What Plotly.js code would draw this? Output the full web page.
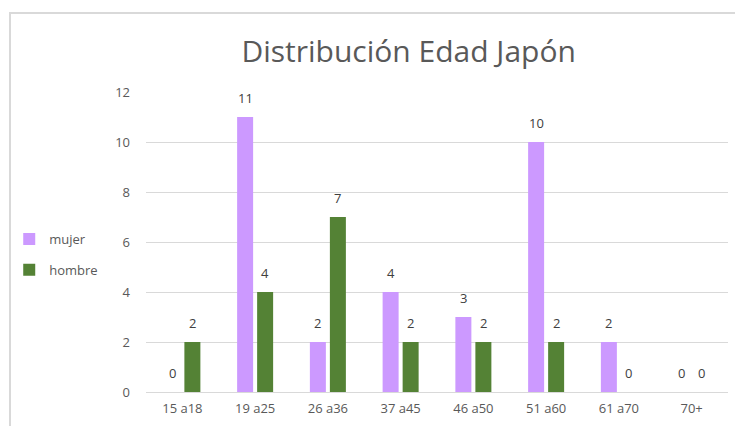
<!DOCTYPE html>
<html>
<head>
<meta charset="utf-8">
<script src="https://cdn.plot.ly/plotly-3.0.1.min.js"></script>
<style>
  html, body { margin: 0; padding: 0; background: #fff; overflow: hidden; }
  #frame { position: absolute; left: 9px; top: 12px; width: 800px; height: 500px;
           border-left: 2px solid #D9D9D9; border-top: 2px solid #D9D9D9; }
  #chart { position: absolute; left: 0; top: 0; width: 735px; height: 426px; }
</style>
</head>
<body>
<div id="frame"></div>
<div id="chart"></div>
<script>
const categories = ["15 a18", "19 a25", "26 a36", "37 a45", "46 a50", "51 a60", "61 a70", "70+"];
const mujer = [0, 11, 2, 4, 3, 10, 2, 0];
const hombre = [2, 4, 7, 2, 2, 2, 0, 0];
const seriesNames = ["mujer", "hombre"];
const seriesColors = ["#CC99FF", "#548235"];

const series = [mujer, hombre];
const traces = series.map((vals, i) => ({
  type: "bar",
  name: seriesNames[i],
  x: categories,
  y: vals,
  legendgroup: seriesNames[i],
  marker: { color: seriesColors[i], line: { width: 0 } },
  hoverinfo: "skip"
}));

const shifts = [-10, 10];
const annotations = [];
series.forEach((vals, i) => {
  vals.forEach((v, j) => {
    annotations.push({
      x: categories[j], y: v, xref: "x", yref: "y",
      text: String(v), showarrow: false,
      xanchor: "center", yanchor: "bottom",
      xshift: shifts[i], yshift: 8,
      font: { family: "Open Sans, Noto Sans, sans-serif", size: 13, color: "#404040" }
    });
  });
});

const layout = {
  width: 735, height: 426,
  paper_bgcolor: "rgba(0,0,0,0)",
  plot_bgcolor: "rgba(0,0,0,0)",
  margin: { l: 146, r: 7, t: 92, b: 34, pad: 0 },
  barmode: "group",
  bargap: 0.45,
  bargroupgap: 0.2,
  title: {
    text: "Distribución Edad Japón",
    font: { family: "Open Sans, Noto Sans, sans-serif", size: 30, color: "#595959" },
    xref: "container", yref: "container",
    x: 0.556, xanchor: "center",
    y: 0.88, yanchor: "middle"
  },
  xaxis: {
    type: "category",
    showgrid: false,
    showline: false,
    zeroline: false,
    ticks: "",
    ticklabelstandoff: 7,
    tickfont: { family: "Open Sans, Noto Sans, sans-serif", size: 13, color: "#595959" },
    fixedrange: true
  },
  yaxis: {
    range: [0, 12],
    dtick: 2,
    tick0: 0,
    showgrid: true,
    gridcolor: "#D9D9D9",
    gridwidth: 1,
    zeroline: true,
    zerolinecolor: "#D9D9D9",
    zerolinewidth: 1,
    showline: false,
    ticks: "",
    ticklabelstandoff: 15,
    tickfont: { family: "Open Sans, Noto Sans, sans-serif", size: 13, color: "#595959" },
    fixedrange: true
  },
  showlegend: true,
  legend: {
    x: -0.235, xanchor: "left",
    y: 0.56, yanchor: "top",
    orientation: "v",
    traceorder: "grouped",
    tracegroupgap: 11,
    itemwidth: 30,
    font: { family: "Open Sans, Noto Sans, sans-serif", size: 13, color: "#595959" },
    bgcolor: "rgba(0,0,0,0)"
  },
  annotations: annotations
};

Plotly.newPlot("chart", traces, layout, { displayModeBar: false, staticPlot: true });
</script>
</body>
</html>
